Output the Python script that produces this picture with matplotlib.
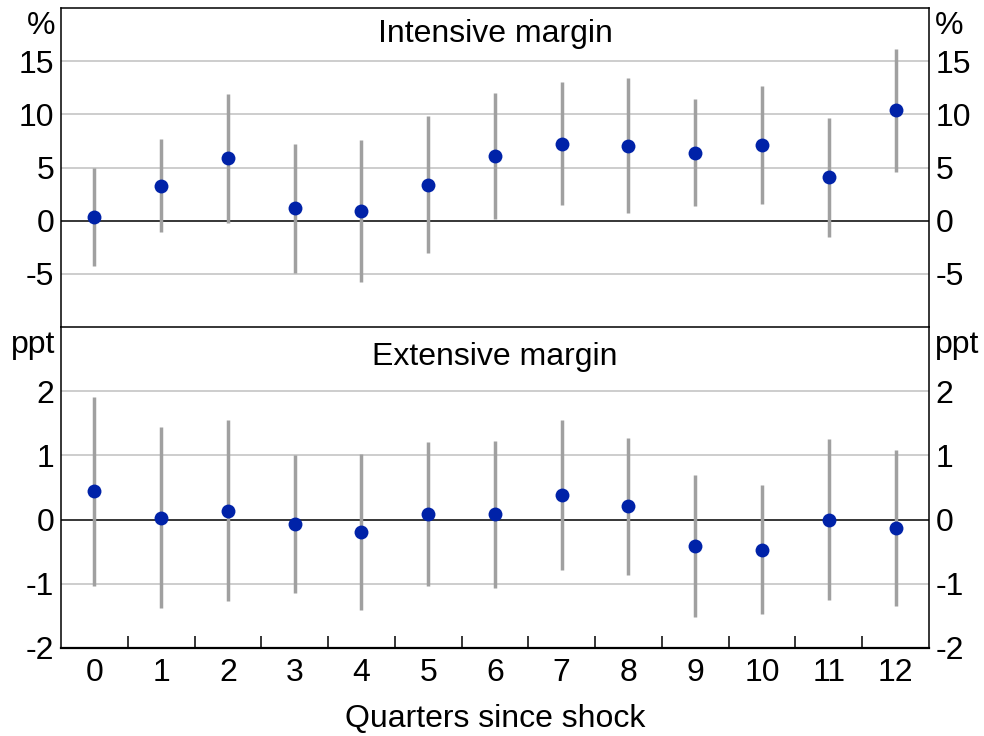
import matplotlib
matplotlib.use("Agg")
import matplotlib.pyplot as plt
import numpy as np

plt.rcParams['font.family'] = ['Liberation Sans', 'DejaVu Sans']

quarters = list(range(13))

# Intensive margin (%)
int_est = [0.3, 3.3, 5.85, 1.15, 0.9, 3.4, 6.05, 7.2, 7.05, 6.4, 7.1, 4.1, 10.4]
int_hi = [4.95, 7.65, 11.95, 7.2, 7.6, 9.8, 12.0, 13.0, 13.4, 11.4, 12.65, 9.7, 16.1]
int_lo = [-4.3, -1.05, -0.2, -4.9, -5.8, -3.05, 0.15, 1.5, 0.7, 1.35, 1.55, -1.55, 4.55]

# Extensive margin (ppt)
ext_est = [0.44, 0.03, 0.14, -0.07, -0.19, 0.09, 0.08, 0.38, 0.21, -0.41, -0.47, 0.0, -0.13]
ext_hi = [1.91, 1.44, 1.55, 1.0, 1.02, 1.21, 1.22, 1.55, 1.27, 0.69, 0.54, 1.25, 1.08]
ext_lo = [-1.04, -1.38, -1.27, -1.14, -1.41, -1.03, -1.06, -0.79, -0.86, -1.51, -1.47, -1.26, -1.34]

panels = [
    dict(title="Intensive margin", unit="%", est=int_est, lo=int_lo, hi=int_hi,
         ylim=(-10, 20), ticks=[-5, 0, 5, 10, 15], grid=[-5, 5, 10, 15], ty=0.918),
    dict(title="Extensive margin", unit="ppt", est=ext_est, lo=ext_lo, hi=ext_hi,
         ylim=(-2, 3), ticks=[-2, -1, 0, 1, 2], grid=[-1, 1, 2], ty=0.905),
]

FS = 23
dot_color = "#0022A8"
bar_color = "#A0A0A0"

fig = plt.figure(figsize=(9.84, 7.36), dpi=100)
ax_top = fig.add_axes([0.062, 0.5557, 0.882, 0.4334])
ax_bot = fig.add_axes([0.062, 0.1196, 0.882, 0.4361])

for ax, p in zip([ax_top, ax_bot], panels):
    ax.set_xlim(-0.5, 12.5)
    ax.set_ylim(*p["ylim"])
    for g in p["grid"]:
        ax.axhline(g, color="#C0C0C0", lw=1.1, zorder=1)
    ax.axhline(0, color="black", lw=1.1, zorder=2)
    ax.vlines(quarters, p["lo"], p["hi"], color=bar_color, lw=2.5, zorder=3)
    ax.plot(quarters, p["est"], "o", color=dot_color, ms=10, mew=0, zorder=4)

    ax.set_yticks(p["ticks"])
    ax.set_yticklabels([f"{t}" for t in p["ticks"]])
    ax.tick_params(axis="y", which="both", length=0, labelsize=FS, pad=5,
                   left=True, right=True, labelleft=True, labelright=True)
    for s in ax.spines.values():
        s.set_linewidth(1.1)

    ax.text(0.5, p["ty"], p["title"], transform=ax.transAxes, ha="center",
            va="center", fontsize=FS)
    ax.text(-0.007, 0.945, p["unit"], transform=ax.transAxes, ha="right",
            va="center", fontsize=FS)
    ax.text(1.007, 0.945, p["unit"], transform=ax.transAxes, ha="left",
            va="center", fontsize=FS)

ax_top.set_xticks([])
ax_top.spines["bottom"].set_visible(False)
ax_bot.spines["bottom"].set_linewidth(1.6)

ax_bot.set_xticks(quarters)
ax_bot.set_xticks(np.arange(0.5, 12, 1), minor=True)
ax_bot.tick_params(axis="x", which="major", length=0, labelsize=FS, pad=7)
ax_bot.tick_params(axis="x", which="minor", direction="in", length=8.5,
                   width=1.1, color="black")
ax_bot.set_xlabel("Quarters since shock", fontsize=FS, labelpad=12)

fig.savefig("out.png", dpi=100)
